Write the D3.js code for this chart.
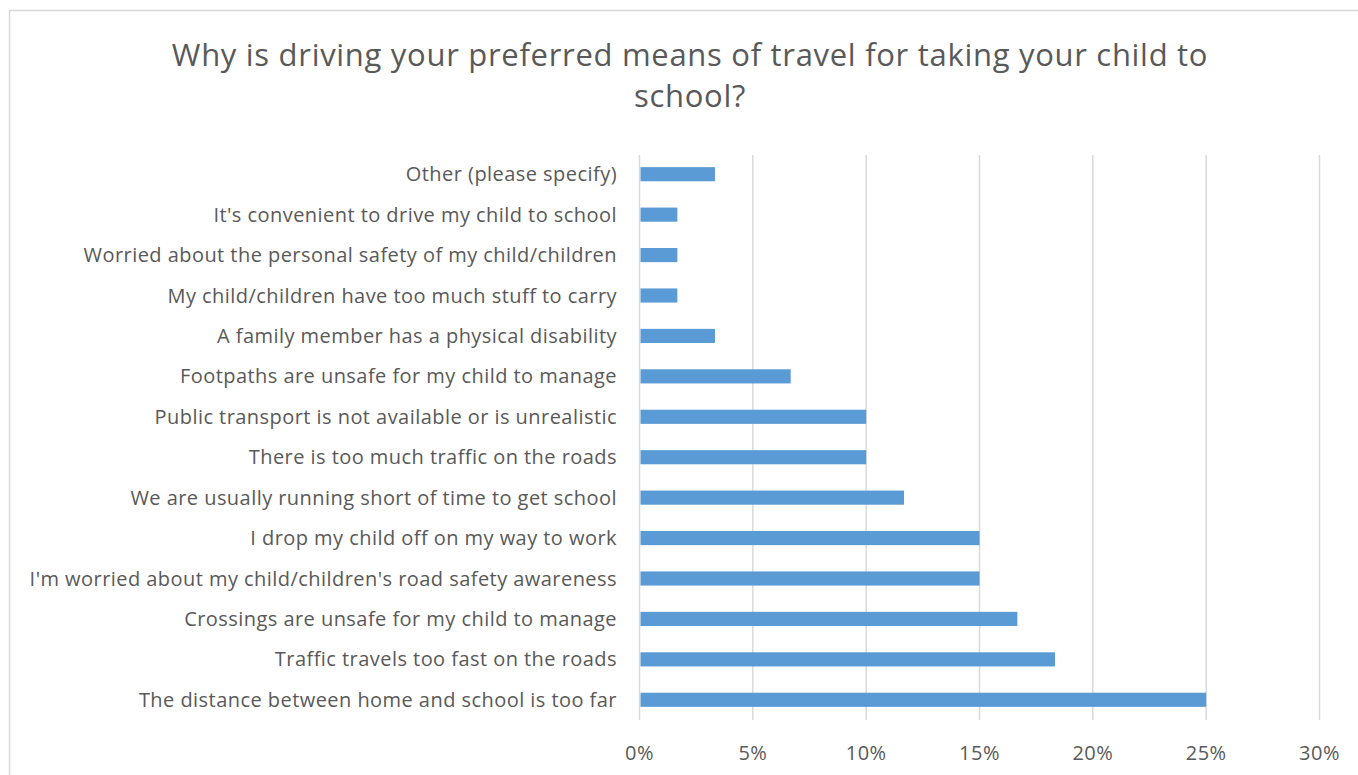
<!DOCTYPE html>
<html><head><meta charset="utf-8">
<script src="https://cdn.jsdelivr.net/npm/d3@7"></script>
<style>body{margin:0;background:#fff;} svg{display:block;}</style>
</head><body>
<svg id="c" width="1358" height="775"></svg>
<script>
const categories = [
  "Other (please specify)",
  "It's convenient to drive my child to school",
  "Worried about the personal safety of my child/children",
  "My child/children have too much stuff to carry",
  "A family member has a physical disability",
  "Footpaths are unsafe for my child to manage",
  "Public transport is not available or is unrealistic",
  "There is too much traffic on the roads",
  "We are usually running short of time to get school",
  "I drop my child off on my way to work",
  "I'm worried about my child/children's road safety awareness",
  "Crossings are unsafe for my child to manage",
  "Traffic travels too fast on the roads",
  "The distance between home and school is too far"
];
const values = [3.33, 1.67, 1.67, 1.67, 3.33, 6.67, 10, 10, 11.67, 15, 15, 16.67, 18.33, 25];
const xTicks = [0, 5, 10, 15, 20, 25, 30];
const titleLines = ["Why is driving your preferred means of travel for taking your child to", "school?"];

const svg = d3.select("#c");
const font = "'Open Sans', sans-serif";
const textColor = "#595959";

svg.append("rect").attr("x", 9.5).attr("y", 10.5).attr("width", 1360).attr("height", 780)
  .attr("fill", "#fff").attr("stroke", "#d9d9d9").attr("stroke-width", 1.5);

const x = d3.scaleLinear().domain([0, 30]).range([639.5, 1319.5]);
const y = d3.scaleBand().domain(categories).range([154, 720]).paddingInner(0.65).paddingOuter(0.325);

svg.append("g").selectAll("line").data(xTicks).join("line")
  .attr("x1", d => x(d)).attr("x2", d => x(d)).attr("y1", 155).attr("y2", 720)
  .attr("stroke", "#d9d9d9").attr("stroke-width", 1.5);

svg.append("g").selectAll("rect").data(values).join("rect")
  .attr("x", x(0) + 1).attr("y", (d, i) => y(categories[i]))
  .attr("width", d => x(d) - x(0) - 1).attr("height", y.bandwidth())
  .attr("fill", "#5b9bd5");

svg.append("g").selectAll("text").data(categories).join("text")
  .attr("x", 617).attr("y", d => y(d) + y.bandwidth() / 2).attr("dy", "0.35em")
  .attr("text-anchor", "end").attr("font-family", font).attr("font-size", 20)
  .attr("letter-spacing", 0.45)
  .attr("fill", textColor).text(d => d);

svg.append("g").selectAll("text").data(xTicks).join("text")
  .attr("x", d => x(d)).attr("y", 760)
  .attr("text-anchor", "middle").attr("font-family", font).attr("font-size", 20)
  .attr("letter-spacing", 0.45)
  .attr("fill", textColor).text(d => d + "%");

svg.append("g").selectAll("text").data(titleLines).join("text")
  .attr("x", 690).attr("y", (d, i) => 66 + i * 41)
  .attr("text-anchor", "middle").attr("font-family", font).attr("font-size", 31)
  .attr("letter-spacing", 0.7)
  .attr("fill", textColor).text(d => d);
</script>
</body></html>
